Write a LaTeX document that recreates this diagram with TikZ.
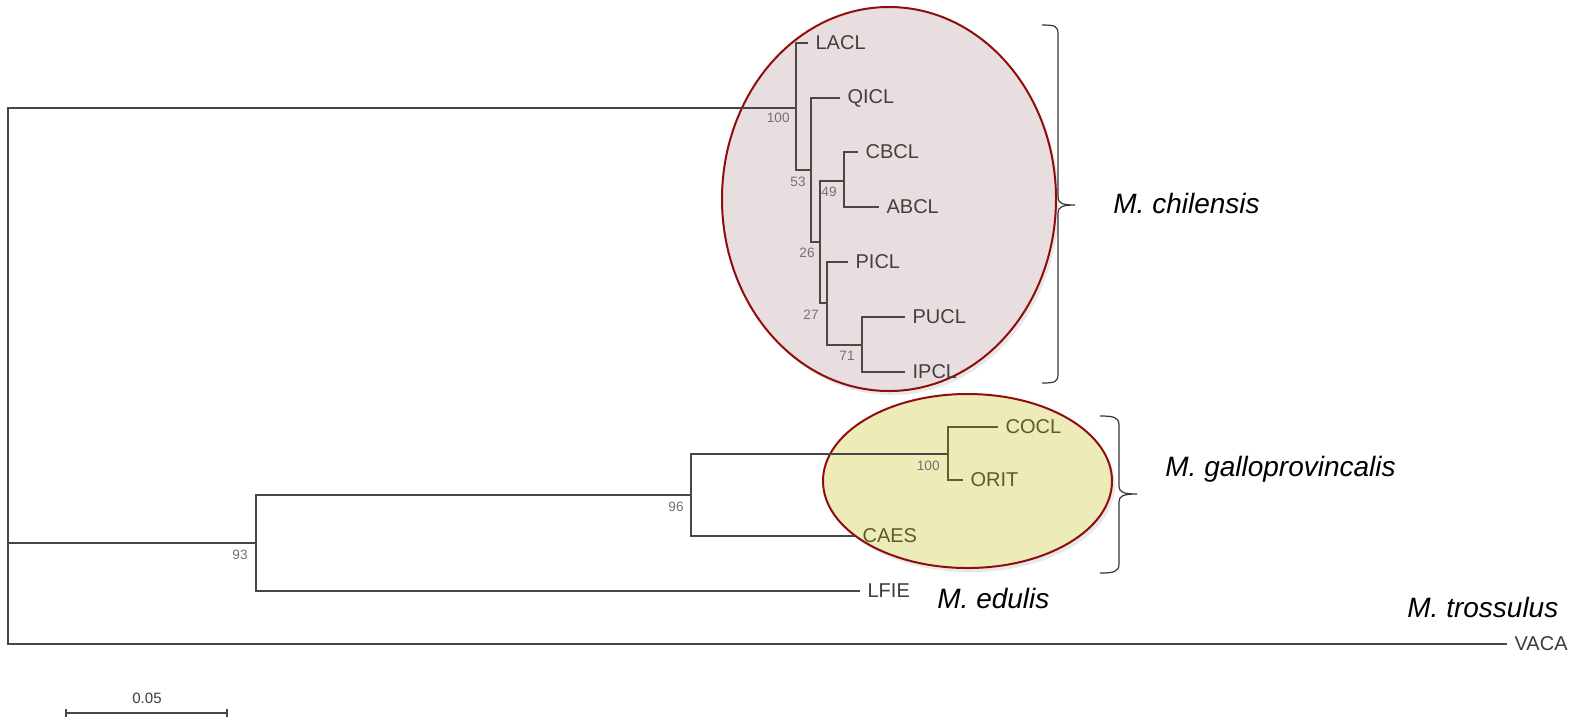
\documentclass[tikz,border=0pt]{standalone}
\usepackage{fontspec}
\setmainfont{Liberation Sans}
\usetikzlibrary{shadows}
\definecolor{treeline}{RGB}{70,70,70}
\definecolor{pinkline}{RGB}{80,70,70}
\definecolor{oliveline}{RGB}{95,95,45}
\definecolor{tipcol}{RGB}{60,60,60}
\definecolor{pinktext}{RGB}{72,62,62}
\definecolor{olivetext}{RGB}{92,92,40}
\definecolor{bootcol}{RGB}{115,115,115}
\definecolor{pinkfill}{RGB}{233,222,223}
\definecolor{yelfill}{RGB}{237,236,185}
\definecolor{ellred}{RGB}{145,12,12}
\definecolor{bracecol}{RGB}{55,55,55}
\tikzset{
  branch/.style={draw=treeline, line width=0.55pt},
  pbranch/.style={draw=pinkline, line width=0.55pt},
  obranch/.style={draw=oliveline, line width=0.55pt},
  tip/.style={anchor=west, inner xsep=3.6pt, inner ysep=0pt, font=\fontsize{10}{12}\selectfont, text=tipcol},
  ptip/.style={tip, text=pinktext},
  otip/.style={tip, text=olivetext},
  boot/.style={anchor=east, inner sep=0pt, font=\fontsize{6.8}{8}\selectfont, text=bootcol},
  species/.style={anchor=base west, inner sep=0pt, font=\fontsize{14}{16}\selectfont\itshape, text=black},
  bracestyle/.style={draw=bracecol, line width=0.6pt},
  group/.style={draw=ellred, line width=1pt, drop shadow={shadow xshift=1.5pt, shadow yshift=-2pt, opacity=0.18}}
}
\begin{document}
\begin{tikzpicture}[x=0.5pt,y=-0.5pt]
\useasboundingbox (0,0) rectangle (1569,720);
\fill[white] (0,0) rectangle (1569,720);

% group ellipses
\path[group, fill=pinkfill] (889,199) ellipse [x radius=83.5pt, y radius=96pt];
\path[group, fill=yelfill] (967.5,481) ellipse [x radius=72.25pt, y radius=43.5pt];

% internal nodes
\coordinate (R) at (8,543);
\coordinate (n100a) at (796,108);
\coordinate (n53) at (811,170);
\coordinate (n26) at (820,242);
\coordinate (n49) at (844,181);
\coordinate (n27) at (827,303);
\coordinate (n71) at (862,345);
\coordinate (n93) at (256,543);
\coordinate (n96) at (691,495);
\coordinate (n100b) at (948,454);

% tips
\node[ptip] (LACL) at (808,43) {LACL};
\node[ptip] (QICL) at (840,98) {QICL};
\node[ptip] (CBCL) at (858,152) {CBCL};
\node[ptip] (ABCL) at (879,207) {ABCL};
\node[ptip] (PICL) at (848,262) {PICL};
\node[ptip] (PUCL) at (905,317) {PUCL};
\node[ptip] (IPCL) at (905,372) {IPCL};
\node[otip] (COCL) at (998,427) {COCL};
\node[otip] (ORIT) at (963,480) {ORIT};
\node[otip] (CAES) at (855,536) {CAES};
\node[tip] (LFIE) at (860,591) {LFIE};
\node[tip] (VACA) at (1507,644) {VACA};

% branches
\draw[branch] (R) |- (n100a);
\draw[branch] (R) -- (n93);
\draw[branch] (R) |- (VACA.west);
\draw[pbranch] (n100a) |- (LACL.west);
\draw[pbranch] (n100a) |- (n53);
\draw[pbranch] (n53) |- (QICL.west);
\draw[pbranch] (n53) |- (n26);
\draw[pbranch] (n26) |- (n49);
\draw[pbranch] (n26) |- (n27);
\draw[pbranch] (n49) |- (CBCL.west);
\draw[pbranch] (n49) |- (ABCL.west);
\draw[pbranch] (n27) |- (PICL.west);
\draw[pbranch] (n27) |- (n71);
\draw[pbranch] (n71) |- (PUCL.west);
\draw[pbranch] (n71) |- (IPCL.west);
\draw[branch] (n93) |- (n96);
\draw[branch] (n93) |- (LFIE.west);
\draw[branch] (n96) |- (n100b);
\draw[branch] (n96) |- (CAES.west);
\draw[obranch] (n100b) |- (COCL.west);
\draw[obranch] (n100b) |- (ORIT.west);

% bootstrap values
\node[boot] (b100a) at (790,118) {100};
\node[boot] (b53) at (806,182) {53};
\node[boot] (b49) at (837,192) {49};
\node[boot] (b26) at (815,253) {26};
\node[boot] (b27) at (819,315) {27};
\node[boot] (b71) at (855,356) {71};
\node[boot] (b96) at (684,507) {96};
\node[boot] (b100b) at (940,466) {100};
\node[boot] (b93) at (248,555) {93};

% braces
\draw[bracestyle] (1042,25) .. controls (1055,25) and (1058,26) .. (1058,34) -- (1058,197)
  .. controls (1058,203) and (1062,205) .. (1075,205)
  .. controls (1062,205) and (1058,207) .. (1058,213) -- (1058,374)
  .. controls (1058,382) and (1055,383) .. (1042,383);
\draw[bracestyle] (1100,416) .. controls (1113,416) and (1119,417) .. (1119,425) -- (1119,486)
  .. controls (1119,492) and (1123,494) .. (1137,494)
  .. controls (1123,494) and (1119,496) .. (1119,502) -- (1119,564)
  .. controls (1119,572) and (1113,573) .. (1100,573);

% species labels
\node[species] (chil) at (1113,213) {M. chilensis};
\node[species] (gallo) at (1165,476) {M. galloprovincalis};
\node[species] (edul) at (937,608) {M. edulis};
\node[species] (tross) at (1407,617) {M. trossulus};

% scale bar
\coordinate (sbL) at (66,713);
\coordinate (sbR) at (227,713);
\draw[branch] (sbL) -- (sbR);
\draw[branch] ([yshift=2pt]sbL) -- ([yshift=-2pt]sbL);
\draw[branch] ([yshift=2pt]sbR) -- ([yshift=-2pt]sbR);
\node[inner sep=0pt, font=\fontsize{7.5}{9}\selectfont, text=tipcol] (sblabel) at (147,698) {0.05};
\end{tikzpicture}
\end{document}
